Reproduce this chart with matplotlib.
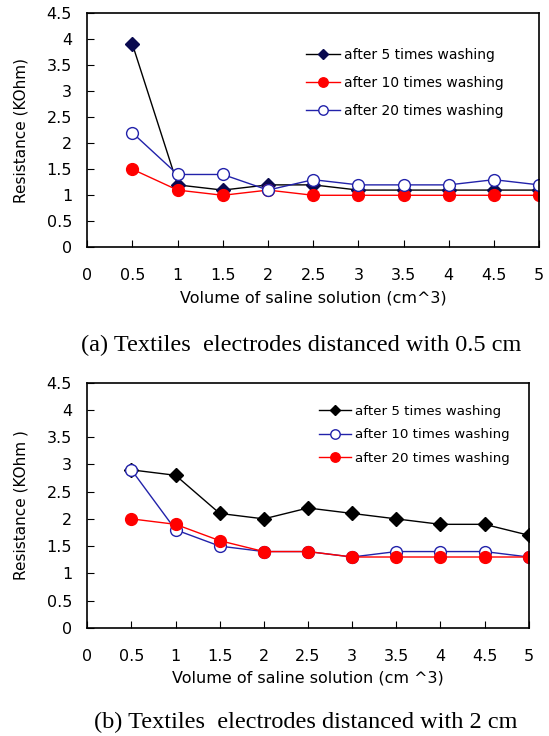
import matplotlib
matplotlib.use("Agg")
import matplotlib.pyplot as plt

volume = [0.5, 1, 1.5, 2, 2.5, 3, 3.5, 4, 4.5, 5]

# (a) 0.5 cm
a_wash5 = [3.9, 1.2, 1.1, 1.2, 1.2, 1.1, 1.1, 1.1, 1.1, 1.1]
a_wash10 = [1.5, 1.1, 1.0, 1.1, 1.0, 1.0, 1.0, 1.0, 1.0, 1.0]
a_wash20 = [2.2, 1.4, 1.4, 1.1, 1.3, 1.2, 1.2, 1.2, 1.3, 1.2]

# (b) 2 cm
b_wash5 = [2.9, 2.8, 2.1, 2.0, 2.2, 2.1, 2.0, 1.9, 1.9, 1.7]
b_wash10 = [2.9, 1.8, 1.5, 1.4, 1.4, 1.3, 1.4, 1.4, 1.4, 1.3]
b_wash20 = [2.0, 1.9, 1.6, 1.4, 1.4, 1.3, 1.3, 1.3, 1.3, 1.3]

xticks = [0, 0.5, 1, 1.5, 2, 2.5, 3, 3.5, 4, 4.5, 5]
yticks = [0, 0.5, 1, 1.5, 2, 2.5, 3, 3.5, 4, 4.5]

plt.rcParams['font.family'] = ['DejaVu Sans']

fig = plt.figure(figsize=(5.49, 7.36), dpi=100)


def style_axes(ax, xlabel, ylabel):
    ax.set_xlim(0, 5)
    ax.set_ylim(0, 4.5)
    ax.set_xticks(xticks)
    ax.set_xticklabels([f"{t:g}" for t in xticks])
    ax.set_yticks(yticks)
    ax.set_yticklabels([f"{t:g}" for t in yticks])
    ax.tick_params(axis='x', direction='in', length=5, labelsize=11.5, pad=15)
    ax.tick_params(axis='y', direction='in', length=5, labelsize=11.5, pad=11)
    for s in ax.spines.values():
        s.set_linewidth(1.2)
    ax.set_xlabel(xlabel, fontsize=11.5, labelpad=5)
    ax.set_ylabel(ylabel, fontsize=11, labelpad=13)


# top chart
ax1 = fig.add_axes([0.159, 0.664, 0.823, 0.318])
ax1.plot(volume, a_wash5, color='black', lw=1, marker='D', ms=7,
         mfc='#0a0a50', mec='#0a0a50', label='after 5 times washing')
ax1.plot(volume, a_wash10, color='red', lw=1, marker='o', ms=8.5,
         mfc='red', mec='red', label='after 10 times washing')
ax1.plot(volume, a_wash20, color='#2222aa', lw=1, marker='o', ms=8.5,
         mfc='white', mec='#2222aa', label='after 20 times washing')
style_axes(ax1, 'Volume of saline solution (cm^3)', 'Resistance (KOhm)')
ax1.legend(loc='upper left', bbox_to_anchor=(0.457, 0.905), frameon=False,
           fontsize=10, handlelength=2.4, labelspacing=1.0, handletextpad=0.3,
           markerscale=0.8)

# bottom chart
ax2 = fig.add_axes([0.159, 0.147, 0.804, 0.333])
ax2.plot(volume, b_wash5, color='black', lw=1, marker='D', ms=7,
         mfc='black', mec='black', label='after 5 times washing')
ax2.plot(volume, b_wash10, color='#2222aa', lw=1, marker='o', ms=8.5,
         mfc='white', mec='#2222aa', label='after 10 times washing')
ax2.plot(volume, b_wash20, color='red', lw=1, marker='o', ms=8.5,
         mfc='red', mec='red', label='after 20 times washing')
style_axes(ax2, 'Volume of saline solution (cm ^3)', 'Resistance (KOhm )')
ax2.legend(loc='upper left', bbox_to_anchor=(0.497, 0.96), frameon=False,
           fontsize=9.6, handlelength=2.4, labelspacing=0.8, handletextpad=0.3,
           markerscale=0.8)

fig.text(0.548, 0.531, '(a) Textiles  electrodes distanced with 0.5 cm',
         ha='center', va='center', fontsize=17.5, family='Liberation Serif')
fig.text(0.557, 0.018, '(b) Textiles  electrodes distanced with 2 cm',
         ha='center', va='center', fontsize=17.5, family='Liberation Serif')

fig.savefig('out.png', dpi=100)
